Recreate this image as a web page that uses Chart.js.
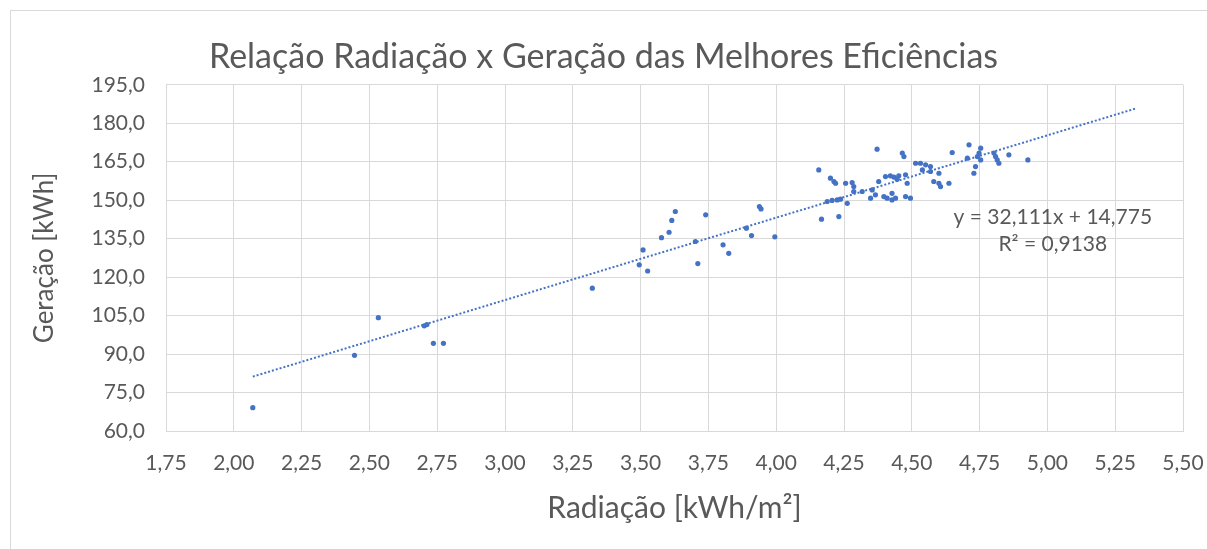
<!DOCTYPE html>
<html lang="pt">
<head>
<meta charset="utf-8">
<title>Relação Radiação x Geração</title>
<script src="https://cdn.jsdelivr.net/npm/chart.js@4/dist/chart.umd.min.js"></script>
<style>
    html, body { margin: 0; padding: 0; background: #ffffff; }
    #grafico { display: block; }
</style>
</head>
<body>
<canvas id="grafico" width="1207" height="549"></canvas>
<script>
// Dados
var radiacao = [
    2.07, 2.445, 2.533, 2.702, 2.712, 2.736, 2.773, 3.322,
    3.495, 3.509, 3.526, 3.577, 3.605, 3.615, 3.628, 3.702, 3.711, 3.740, 3.804, 3.825,
    3.890, 3.909, 3.938, 3.944, 3.995,
    4.157, 4.167, 4.231, 4.200, 4.213, 4.219, 4.256, 4.280, 4.286, 4.286, 4.317,
    4.188, 4.206, 4.225, 4.237, 4.262,
    4.354, 4.348, 4.366, 4.378, 4.372,
    4.403, 4.421, 4.434, 4.446, 4.452,
    4.397, 4.409, 4.427, 4.440, 4.427,
    4.465, 4.471, 4.477, 4.483, 4.477, 4.495,
    4.514, 4.532, 4.551, 4.569, 4.539, 4.569, 4.600,
    4.581, 4.600, 4.606, 4.637,
    4.649, 4.711, 4.754, 4.748, 4.742, 4.754, 4.705, 4.735, 4.729,
    4.803, 4.809, 4.815, 4.821, 4.858, 4.928
];
var geracao = [
    69.1, 89.5, 104.2, 101.0, 101.5, 94.2, 94.2, 115.7,
    124.8, 130.6, 122.4, 135.4, 137.5, 142.1, 145.6, 133.9, 125.3, 144.3, 132.6, 129.3,
    139.1, 136.2, 147.5, 146.6, 135.7,
    161.8, 142.6, 143.6, 158.6, 157.3, 156.6, 156.6, 156.9, 155.3, 153.4, 153.4,
    149.5, 149.9, 150.1, 150.4, 148.8,
    154.0, 150.8, 152.1, 157.3, 169.9,
    159.2, 159.5, 159.0, 158.2, 159.5,
    151.4, 150.8, 150.1, 150.8, 152.7,
    168.4, 167.0, 159.9, 156.6, 151.4, 150.8,
    164.4, 164.4, 163.8, 163.1, 161.8, 161.2, 160.5,
    157.3, 156.6, 155.3, 156.6,
    168.6, 171.6, 170.3, 168.4, 167.0, 165.7, 166.4, 163.1, 160.5,
    168.4, 167.0, 165.7, 164.4, 167.7, 165.7
];

// Linha de tendência (pontas da reta)
var tendenciaX = [2.07, 5.33];
var tendenciaY = [81.2, 185.9];
var equacao = ['y = 32,111x + 14,775', 'R² = 0,9138'];

// Eixos
var eixoX = { min: 1.75, max: 5.50, passo: 0.25 };
var eixoY = { min: 60, max: 195, passo: 15 };

var titulo = 'Relação Radiação x Geração das Melhores Eficiências';
var tituloX = 'Radiação [kWh/m²]';
var tituloY = 'Geração [kWh]';

var azul = '#4472C4';
var cinzaTexto = '#595959';
var cinzaGrade = '#d9d9d9';
var fonte = 'Lato, "Open Sans", sans-serif';

function montarPontos(xs, ys) {
    return xs.map(function (x, i) { return { x: x, y: ys[i] }; });
}

// moldura externa e texto da equação
var extras = {
    id: 'extras',
    beforeDraw: function (chart) {
        var ctx = chart.ctx;
        ctx.save();
        ctx.fillStyle = '#ffffff';
        ctx.fillRect(0, 0, chart.width, chart.height);
        ctx.strokeStyle = cinzaGrade;
        ctx.lineWidth = 1;
        ctx.strokeRect(10.5, 10.5, chart.width, chart.height);
        ctx.restore();
    },
    afterDatasetsDraw: function (chart) {
        var ctx = chart.ctx;
        var px = chart.scales.x.getPixelForValue(5.02);
        var py = chart.scales.y.getPixelForValue(143.5);
        ctx.save();
        ctx.font = '21px ' + fonte;
        ctx.fillStyle = cinzaTexto;
        ctx.textAlign = 'center';
        ctx.textBaseline = 'middle';
        ctx.fillText(equacao[0], px, py);
        ctx.fillText(equacao[1], px, py + 27);
        ctx.restore();
    }
};

var ctx = document.getElementById('grafico').getContext('2d');
var grafico = new Chart(ctx, {
    type: 'scatter',
    data: {
        datasets: [{
            label: 'Geração',
            data: montarPontos(radiacao, geracao),
            backgroundColor: azul,
            borderColor: azul,
            pointRadius: 2.6,
            pointBorderWidth: 0
        }, {
            label: 'Tendência',
            data: montarPontos(tendenciaX, tendenciaY),
            showLine: true,
            borderColor: azul,
            borderWidth: 2,
            borderDash: [2, 2],
            pointRadius: 0,
            fill: false
        }]
    },
    options: {
        responsive: false,
        animation: false,
        layout: { padding: 0 },
        plugins: {
            legend: { display: false },
            tooltip: { enabled: false },
            title: {
                display: true,
                text: titulo,
                color: cinzaTexto,
                font: { family: fonte, size: 34, weight: 'normal' },
                padding: { top: 37, bottom: 7 }
            }
        },
        scales: {
            x: {
                type: 'linear',
                min: eixoX.min,
                max: eixoX.max,
                afterFit: function (scale) {
                    scale.height = 118;
                    scale.paddingLeft = 0;
                    scale.paddingRight = 24;
                },
                grid: { color: cinzaGrade, drawTicks: false },
                border: { color: cinzaGrade },
                ticks: {
                    stepSize: eixoX.passo,
                    padding: 20,
                    color: cinzaTexto,
                    font: { family: fonte, size: 21 },
                    callback: function (v) { return v.toFixed(2).replace('.', ','); }
                },
                title: {
                    display: true,
                    text: tituloX,
                    color: cinzaTexto,
                    font: { family: fonte, size: 30 },
                    padding: { top: 0, bottom: 23 }
                }
            },
            y: {
                type: 'linear',
                min: eixoY.min,
                max: eixoY.max,
                afterFit: function (scale) { scale.width = 166; },
                grid: { color: cinzaGrade, drawTicks: false },
                border: { color: cinzaGrade },
                ticks: {
                    stepSize: eixoY.passo,
                    padding: 21,
                    color: cinzaTexto,
                    font: { family: fonte, size: 21 },
                    callback: function (v) { return v.toFixed(1).replace('.', ','); }
                },
                title: {
                    display: true,
                    text: tituloY,
                    color: cinzaTexto,
                    font: { family: fonte, size: 26 },
                    padding: { top: 29, bottom: 0 }
                }
            }
        }
    },
    plugins: [extras]
});
</script>
</body>
</html>
